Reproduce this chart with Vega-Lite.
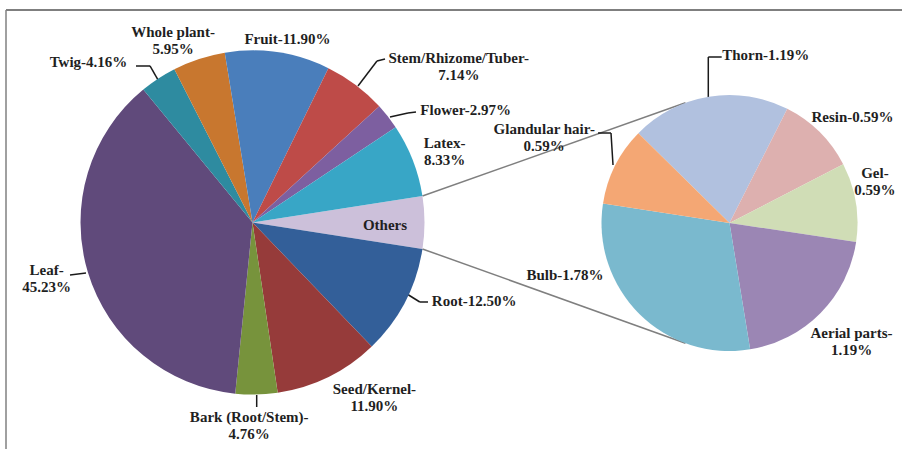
{
  "$schema": "https://vega.github.io/schema/vega-lite/v6.json",
  "width": 902,
  "height": 449,
  "autosize": {"type": "none"},
  "padding": 0,
  "background": "white",
  "view": {"stroke": null},
  "config": {
    "text": {"font": "Liberation Serif", "fontWeight": "bold", "fontSize": 15, "lineBreak": "|", "lineHeight": 17, "color": "#1f1f1f"},
    "rule": {"color": "#1a1a1a", "strokeWidth": 1.5}
  },
  "datasets": {
    "main": [
      {"part": "Others", "pct": 5.93},
      {"part": "Root", "pct": 12.50},
      {"part": "Seed/Kernel", "pct": 11.90},
      {"part": "Bark (Root/Stem)", "pct": 4.76},
      {"part": "Leaf", "pct": 45.23},
      {"part": "Twig", "pct": 4.16},
      {"part": "Whole plant", "pct": 5.95},
      {"part": "Fruit", "pct": 11.90},
      {"part": "Stem/Rhizome/Tuber", "pct": 7.14},
      {"part": "Flower", "pct": 2.97},
      {"part": "Latex", "pct": 8.33}
    ],
    "sub": [
      {"part": "Thorn", "pct": 1.19},
      {"part": "Resin", "pct": 0.59},
      {"part": "Gel", "pct": 0.59},
      {"part": "Aerial parts", "pct": 1.19},
      {"part": "Bulb", "pct": 1.78},
      {"part": "Glandular hair", "pct": 0.59}
    ],
    "one": [{}]
  },
  "layer": [
    {
      "data": {"name": "one"},
      "mark": {"type": "rule", "color": "#555555", "strokeWidth": 1.5},
      "encoding": {
        "x": {"datum": -1.4331, "type": "quantitative", "scale": {"domain": [-1.468, 3.7762], "nice": false, "zero": false}, "axis": null},
        "x2": {"datum": 3.7762},
        "y": {"datum": 1.2355, "type": "quantitative", "scale": {"domain": [-1.3169, 1.2936], "nice": false, "zero": false}, "axis": null}
      }
    },
    {
      "data": {"name": "one"},
      "mark": {"type": "rule", "color": "#808080", "strokeWidth": 1.5},
      "encoding": {
        "x": {"datum": -1.4331, "type": "quantitative", "scale": {"domain": [-1.468, 3.7762], "nice": false, "zero": false}, "axis": null},
        "y": {"datum": 1.2355, "type": "quantitative", "scale": {"domain": [-1.3169, 1.2936], "nice": false, "zero": false}, "axis": null},
        "y2": {"datum": -1.3169}
      }
    },
    {
      "data": {"name": "one"},
      "mark": {"type": "rule", "color": "#7f7f7f", "strokeWidth": 1.5},
      "encoding": {
        "x": {"datum": 0.9881, "type": "quantitative", "scale": {"domain": [-1.468, 3.7762], "nice": false, "zero": false}, "axis": null},
        "x2": {"datum": 2.5175},
        "y": {"datum": 0.1537, "type": "quantitative", "scale": {"domain": [-1.3169, 1.2936], "nice": false, "zero": false}, "axis": null},
        "y2": {"datum": 0.696}
      }
    },
    {
      "data": {"name": "one"},
      "mark": {"type": "rule", "color": "#7f7f7f", "strokeWidth": 1.5},
      "encoding": {
        "x": {"datum": 0.9881, "type": "quantitative", "scale": {"domain": [-1.468, 3.7762], "nice": false, "zero": false}, "axis": null},
        "x2": {"datum": 2.5175},
        "y": {"datum": -0.1537, "type": "quantitative", "scale": {"domain": [-1.3169, 1.2936], "nice": false, "zero": false}, "axis": null},
        "y2": {"datum": -0.702}
      }
    },
    {
      "data": {"name": "one"},
      "mark": {"type": "rule"},
      "encoding": {
        "x": {"datum": -0.6773, "type": "quantitative", "scale": {"domain": [-1.468, 3.7762], "nice": false, "zero": false}, "axis": null},
        "x2": {"datum": -0.5959},
        "y": {"datum": 0.9099, "type": "quantitative", "scale": {"domain": [-1.3169, 1.2936], "nice": false, "zero": false}, "axis": null},
        "y2": {"datum": 0.9099}
      }
    },
    {
      "data": {"name": "one"},
      "mark": {"type": "rule"},
      "encoding": {
        "x": {"datum": -0.5959, "type": "quantitative", "scale": {"domain": [-1.468, 3.7762], "nice": false, "zero": false}, "axis": null},
        "x2": {"datum": -0.5494},
        "y": {"datum": 0.9099, "type": "quantitative", "scale": {"domain": [-1.3169, 1.2936], "nice": false, "zero": false}, "axis": null},
        "y2": {"datum": 0.8285}
      }
    },
    {
      "data": {"name": "one"},
      "mark": {"type": "rule"},
      "encoding": {
        "x": {"datum": 0.7703, "type": "quantitative", "scale": {"domain": [-1.468, 3.7762], "nice": false, "zero": false}, "axis": null},
        "x2": {"datum": 0.7238},
        "y": {"datum": 0.9506, "type": "quantitative", "scale": {"domain": [-1.3169, 1.2936], "nice": false, "zero": false}, "axis": null},
        "y2": {"datum": 0.939}
      }
    },
    {
      "data": {"name": "one"},
      "mark": {"type": "rule"},
      "encoding": {
        "x": {"datum": 0.7238, "type": "quantitative", "scale": {"domain": [-1.468, 3.7762], "nice": false, "zero": false}, "axis": null},
        "x2": {"datum": 0.6134},
        "y": {"datum": 0.939, "type": "quantitative", "scale": {"domain": [-1.3169, 1.2936], "nice": false, "zero": false}, "axis": null},
        "y2": {"datum": 0.7936}
      }
    },
    {
      "data": {"name": "one"},
      "mark": {"type": "rule"},
      "encoding": {
        "x": {"datum": 0.9506, "type": "quantitative", "scale": {"domain": [-1.468, 3.7762], "nice": false, "zero": false}, "axis": null},
        "x2": {"datum": 0.9041},
        "y": {"datum": 0.6424, "type": "quantitative", "scale": {"domain": [-1.3169, 1.2936], "nice": false, "zero": false}, "axis": null},
        "y2": {"datum": 0.6366}
      }
    },
    {
      "data": {"name": "one"},
      "mark": {"type": "rule"},
      "encoding": {
        "x": {"datum": 0.9041, "type": "quantitative", "scale": {"domain": [-1.468, 3.7762], "nice": false, "zero": false}, "axis": null},
        "x2": {"datum": 0.7994},
        "y": {"datum": 0.6366, "type": "quantitative", "scale": {"domain": [-1.3169, 1.2936], "nice": false, "zero": false}, "axis": null},
        "y2": {"datum": 0.6134}
      }
    },
    {
      "data": {"name": "one"},
      "mark": {"type": "rule"},
      "encoding": {
        "x": {"datum": 1.0203, "type": "quantitative", "scale": {"domain": [-1.468, 3.7762], "nice": false, "zero": false}, "axis": null},
        "x2": {"datum": 0.9727},
        "y": {"datum": -0.4622, "type": "quantitative", "scale": {"domain": [-1.3169, 1.2936], "nice": false, "zero": false}, "axis": null},
        "y2": {"datum": -0.4622}
      }
    },
    {
      "data": {"name": "one"},
      "mark": {"type": "rule"},
      "encoding": {
        "x": {"datum": 0.9727, "type": "quantitative", "scale": {"domain": [-1.468, 3.7762], "nice": false, "zero": false}, "axis": null},
        "x2": {"datum": 0.8983},
        "y": {"datum": -0.4622, "type": "quantitative", "scale": {"domain": [-1.3169, 1.2936], "nice": false, "zero": false}, "axis": null},
        "y2": {"datum": -0.4157}
      }
    },
    {
      "data": {"name": "one"},
      "mark": {"type": "rule"},
      "encoding": {
        "x": {"datum": 0.0244, "type": "quantitative", "scale": {"domain": [-1.468, 3.7762], "nice": false, "zero": false}, "axis": null},
        "y": {"datum": -1.0029, "type": "quantitative", "scale": {"domain": [-1.3169, 1.2936], "nice": false, "zero": false}, "axis": null},
        "y2": {"datum": -1.0727}
      }
    },
    {
      "data": {"name": "one"},
      "mark": {"type": "rule"},
      "encoding": {
        "x": {"datum": -1.061, "type": "quantitative", "scale": {"domain": [-1.468, 3.7762], "nice": false, "zero": false}, "axis": null},
        "x2": {"datum": -0.968},
        "y": {"datum": -0.3052, "type": "quantitative", "scale": {"domain": [-1.3169, 1.2936], "nice": false, "zero": false}, "axis": null},
        "y2": {"datum": -0.2936}
      }
    },
    {
      "data": {"name": "one"},
      "mark": {"type": "rule"},
      "encoding": {
        "x": {"datum": 2.65, "type": "quantitative", "scale": {"domain": [-1.468, 3.7762], "nice": false, "zero": false}, "axis": null},
        "x2": {"datum": 2.7279},
        "y": {"datum": 0.9622, "type": "quantitative", "scale": {"domain": [-1.3169, 1.2936], "nice": false, "zero": false}, "axis": null},
        "y2": {"datum": 0.9622}
      }
    },
    {
      "data": {"name": "one"},
      "mark": {"type": "rule"},
      "encoding": {
        "x": {"datum": 2.65, "type": "quantitative", "scale": {"domain": [-1.468, 3.7762], "nice": false, "zero": false}, "axis": null},
        "y": {"datum": 0.9622, "type": "quantitative", "scale": {"domain": [-1.3169, 1.2936], "nice": false, "zero": false}, "axis": null},
        "y2": {"datum": 0.7297}
      }
    },
    {
      "data": {"name": "one"},
      "mark": {"type": "rule"},
      "encoding": {
        "x": {"datum": 2.0087, "type": "quantitative", "scale": {"domain": [-1.468, 3.7762], "nice": false, "zero": false}, "axis": null},
        "x2": {"datum": 2.0843},
        "y": {"datum": 0.5203, "type": "quantitative", "scale": {"domain": [-1.3169, 1.2936], "nice": false, "zero": false}, "axis": null},
        "y2": {"datum": 0.5203}
      }
    },
    {
      "data": {"name": "one"},
      "mark": {"type": "rule"},
      "encoding": {
        "x": {"datum": 2.0843, "type": "quantitative", "scale": {"domain": [-1.468, 3.7762], "nice": false, "zero": false}, "axis": null},
        "x2": {"datum": 2.0959},
        "y": {"datum": 0.5203, "type": "quantitative", "scale": {"domain": [-1.3169, 1.2936], "nice": false, "zero": false}, "axis": null},
        "y2": {"datum": 0.3343}
      }
    },
    {
      "data": {"name": "main"},
      "transform": [
        {"window": [{"op": "row_number", "as": "rn"}]},
        {"calculate": "datum.part === 'Others' ? 'Others' : datum.part + '-' + (indexof(['Stem/Rhizome/Tuber', 'Latex', 'Seed/Kernel', 'Bark (Root/Stem)', 'Leaf', 'Whole plant'], datum.part) >= 0 ? '|' : '') + format(datum.pct, '.2f') + '%'", "as": "lbl"}
      ],
      "encoding": {
        "x": {"datum": 0, "type": "quantitative", "scale": {"domain": [-1.468, 3.7762], "nice": false, "zero": false}, "axis": null},
        "y": {"datum": 0, "type": "quantitative", "scale": {"domain": [-1.3169, 1.2936], "nice": false, "zero": false}, "axis": null},
        "theta": {"field": "pct", "type": "quantitative", "stack": true, "scale": {"range": [1.41655, 7.69974]}},
        "order": {"field": "rn", "type": "quantitative"},
        "detail": {"field": "part", "type": "nominal"}
      },
      "layer": [
        {
          "mark": {"type": "arc", "outerRadius": 172},
          "encoding": {
            "color": {
              "field": "part", "type": "nominal", "legend": null,
              "scale": {
                "domain": ["Others", "Root", "Seed/Kernel", "Bark (Root/Stem)", "Leaf", "Twig", "Whole plant", "Fruit", "Stem/Rhizome/Tuber", "Flower", "Latex"],
                "range": ["#CCC0DA", "#335F99", "#963B3A", "#77933C", "#604A7B", "#2E8BA0", "#C8772F", "#4A7EBB", "#BE4B48", "#7D5FA0", "#38A6C6"]
              }
            }
          }
        },
        {"mark": {"type": "text", "radius": 132.5, "dx": 0, "dy": 2.5}, "encoding": {"text": {"condition": {"test": "datum.part === 'Others'", "field": "lbl"}, "value": ""}}},
        {"mark": {"type": "text", "radius": 234, "dx": 14, "dy": -29}, "encoding": {"text": {"condition": {"test": "datum.part === 'Root'", "field": "lbl"}, "value": ""}}},
        {"mark": {"type": "text", "radius": 213, "dx": 28, "dy": -24.5}, "encoding": {"text": {"condition": {"test": "datum.part === 'Seed/Kernel'", "field": "lbl"}, "value": ""}}},
        {"mark": {"type": "text", "radius": 203.5, "dx": -8, "dy": -8.5}, "encoding": {"text": {"condition": {"test": "datum.part === 'Bark (Root/Stem)'", "field": "lbl"}, "value": ""}}},
        {"mark": {"type": "text", "radius": 213, "dx": -2, "dy": -14.5}, "encoding": {"text": {"condition": {"test": "datum.part === 'Leaf'", "field": "lbl"}, "value": ""}}},
        {"mark": {"type": "text", "radius": 230, "dx": -38, "dy": 31.5}, "encoding": {"text": {"condition": {"test": "datum.part === 'Twig'", "field": "lbl"}, "value": ""}}},
        {"mark": {"type": "text", "radius": 199, "dx": -17.5, "dy": -1.5}, "encoding": {"text": {"condition": {"test": "datum.part === 'Whole plant'", "field": "lbl"}, "value": ""}}},
        {"mark": {"type": "text", "radius": 187, "dx": 7.5, "dy": 1.5}, "encoding": {"text": {"condition": {"test": "datum.part === 'Fruit'", "field": "lbl"}, "value": ""}}},
        {"mark": {"type": "text", "radius": 259, "dx": 51, "dy": 42.5}, "encoding": {"text": {"condition": {"test": "datum.part === 'Stem/Rhizome/Tuber'", "field": "lbl"}, "value": ""}}},
        {"mark": {"type": "text", "radius": 241, "dx": 23.5, "dy": 36.5}, "encoding": {"text": {"condition": {"test": "datum.part === 'Flower'", "field": "lbl"}, "value": ""}}},
        {"mark": {"type": "text", "radius": 205, "dx": 1, "dy": -5.5}, "encoding": {"text": {"condition": {"test": "datum.part === 'Latex'", "field": "lbl"}, "value": ""}}}
      ]
    },
    {
      "data": {"name": "sub"},
      "transform": [
        {"window": [{"op": "row_number", "as": "rn"}]},
        {"calculate": "datum.part + '-' + (indexof(['Glandular hair', 'Gel', 'Aerial parts'], datum.part) >= 0 ? '|' : '') + format(datum.pct, '.2f') + '%'", "as": "lbl"}
      ],
      "encoding": {
        "x": {"datum": 2.7733, "type": "quantitative", "scale": {"domain": [-1.468, 3.7762], "nice": false, "zero": false}, "axis": null},
        "y": {"datum": -0.003, "type": "quantitative", "scale": {"domain": [-1.3169, 1.2936], "nice": false, "zero": false}, "axis": null},
        "theta": {"field": "pct", "type": "quantitative", "stack": true, "scale": {"range": [-0.79238, 5.49081]}},
        "order": {"field": "rn", "type": "quantitative"},
        "detail": {"field": "part", "type": "nominal"}
      },
      "layer": [
        {
          "mark": {"type": "arc", "outerRadius": 128},
          "encoding": {
            "color": {
              "field": "part", "type": "nominal", "legend": null,
              "scale": {
                "domain": ["Thorn", "Resin", "Gel", "Aerial parts", "Bulb", "Glandular hair"],
                "range": ["#B1C1DF", "#DDB0AF", "#D0DDB6", "#9B86B4", "#7AB9CE", "#F4A774"]
              }
            }
          }
        },
        {"mark": {"type": "text", "radius": 172, "dx": 64, "dy": 1.5}, "encoding": {"text": {"condition": {"test": "datum.part === 'Thorn'", "field": "lbl"}, "value": ""}}},
        {"mark": {"type": "text", "radius": 162, "dx": 9, "dy": 9.5}, "encoding": {"text": {"condition": {"test": "datum.part === 'Resin'", "field": "lbl"}, "value": ""}}},
        {"mark": {"type": "text", "radius": 151.5, "dx": -4, "dy": -25.5}, "encoding": {"text": {"condition": {"test": "datum.part === 'Gel'", "field": "lbl"}, "value": ""}}},
        {"mark": {"type": "text", "radius": 170, "dx": 1, "dy": -9.5}, "encoding": {"text": {"condition": {"test": "datum.part === 'Aerial parts'", "field": "lbl"}, "value": ""}}},
        {"mark": {"type": "text", "radius": 172.5, "dx": -43, "dy": -70.5}, "encoding": {"text": {"condition": {"test": "datum.part === 'Bulb'", "field": "lbl"}, "value": ""}}},
        {"mark": {"type": "text", "radius": 204, "dx": -3, "dy": -2}, "encoding": {"text": {"condition": {"test": "datum.part === 'Glandular hair'", "field": "lbl"}, "value": ""}}}
      ]
    }
  ],
  "resolve": {"scale": {"theta": "independent", "color": "independent"}}
}
